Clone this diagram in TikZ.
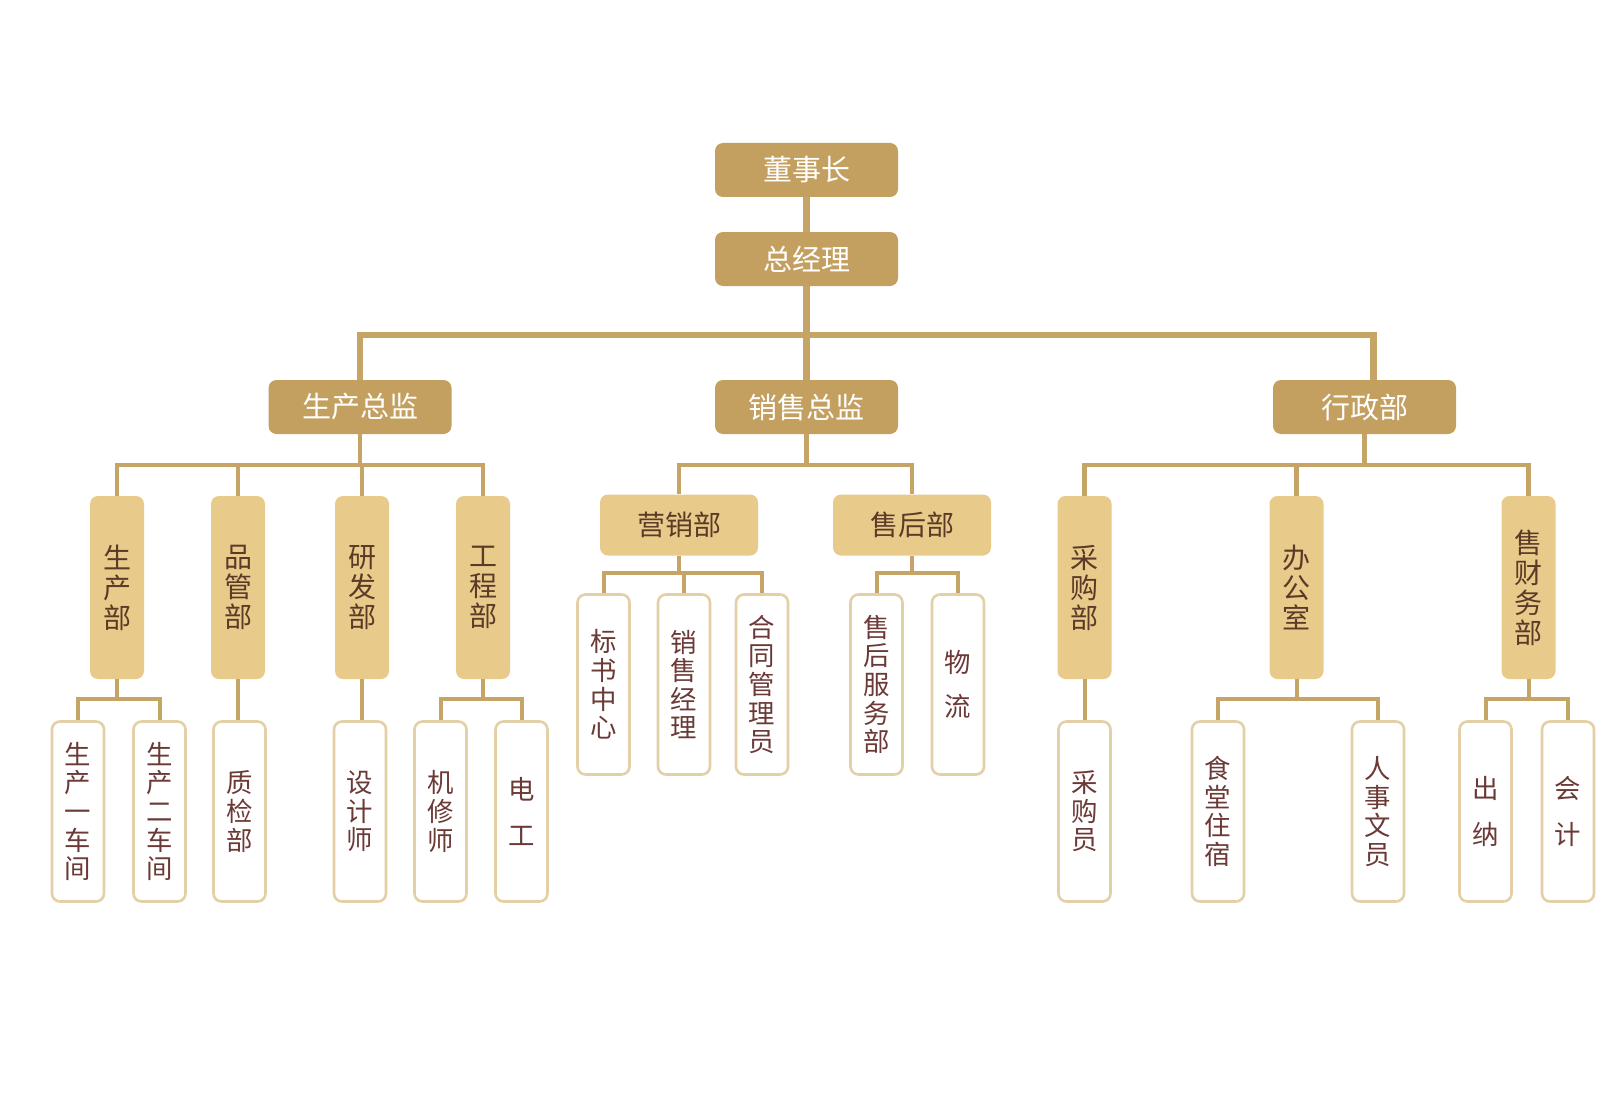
\documentclass[tikz,border=0pt]{standalone}
\usepackage{fontspec}
\newfontfamily\cjk{Noto Sans CJK SC}
\definecolor{topgold}{HTML}{C3A060}
\definecolor{lightgold}{HTML}{E8CA8A}
\definecolor{linegold}{HTML}{C6A465}
\definecolor{leafborder}{HTML}{E4D0A6}
\definecolor{darkbrown}{HTML}{5C3A28}
\definecolor{leaftext}{HTML}{6B3A36}
\begin{document}
\begin{tikzpicture}[x=0.5pt,y=-0.5pt,
  topbox/.style={fill=topgold, rounded corners=4pt, minimum width=91.5pt, minimum height=27pt, inner sep=0pt, text=white, font=\cjk\fontsize{14.5pt}{16pt}\selectfont},
  hbox/.style={fill=lightgold, rounded corners=4pt, minimum width=79pt, minimum height=30.5pt, inner sep=0pt, text=darkbrown, font=\cjk\fontsize{14pt}{16pt}\selectfont},
  vbox/.style={fill=lightgold, rounded corners=4pt, minimum width=27pt, minimum height=91.5pt, inner sep=0pt, align=center, text=darkbrown, font=\cjk\fontsize{14pt}{15pt}\selectfont},
  leaf/.style={draw=leafborder, line width=1.3pt, fill=white, rounded corners=4pt, minimum width=26pt, minimum height=90pt, inner sep=0pt, align=center, text=leaftext, font=\cjk\fontsize{13.2pt}{14.3pt}\selectfont},
  connA/.style={draw=linegold, line width=3.2pt},
  connB/.style={draw=linegold, line width=2.4pt},
  connC/.style={draw=linegold, line width=2pt}]
\useasboundingbox (0,0) rectangle (1604,1118);
\coordinate (y1) at (0,335);
\coordinate (y2) at (0,465);
\coordinate (y3) at (0,699);
\coordinate (y4) at (0,573);

% level 1-2
\node[topbox] (dsz) at (806.5,170) {董事长};
\node[topbox] (zjl) at (806.5,259) {总经理};
\node[topbox] (sczj) at (360,407) {生产总监};
\node[topbox] (xszj) at (806.5,407) {销售总监};
\node[topbox] (xzb) at (1364.5,407) {行政部};

% level 3
\node[vbox] (scb) at (117,587.5) {生\\产\\部};
\node[vbox] (pgb) at (238,587.5) {品\\管\\部};
\node[vbox] (yfb) at (362,587.5) {研\\发\\部};
\node[vbox] (gcb) at (483,587.5) {工\\程\\部};
\node[hbox] (yxb) at (679,525) {营销部};
\node[hbox] (shb) at (912,525) {售后部};
\node[vbox] (cgb) at (1084.5,587.5) {采\\购\\部};
\node[vbox] (bgs) at (1296.5,587.5) {办\\公\\室};
\node[vbox] (cwb) at (1528.5,587.5) {售\\财\\务\\部};

% level 4
\node[leaf] (sc1) at (78,811.5) {生\\产\\一\\车\\间};
\node[leaf] (sc2) at (159.5,811.5) {生\\产\\二\\车\\间};
\node[leaf] (zjb) at (239.5,811.5) {质\\检\\部};
\node[leaf] (sjs) at (360,811.5) {设\\计\\师};
\node[leaf] (jxs) at (440.5,811.5) {机\\修\\师};
\node[leaf] (dg) at (521.5,811.5) {电\\[9pt]工};
\node[leaf] (bszx) at (603.5,684.5) {标\\书\\中\\心};
\node[leaf] (xsjl) at (684,684.5) {销\\售\\经\\理};
\node[leaf] (htgl) at (762,684.5) {合\\同\\管\\理\\员};
\node[leaf] (shfw) at (876.5,684.5) {售\\后\\服\\务\\部};
\node[leaf] (wl) at (958,684.5) {物\\[8pt]流};
\node[leaf] (cgy) at (1084.5,811.5) {采\\购\\员};
\node[leaf] (stzs) at (1218,811.5) {食\\堂\\住\\宿};
\node[leaf] (rswy) at (1378,811.5) {人\\事\\文\\员};
\node[leaf] (cn) at (1485.5,811.5) {出\\[9pt]纳};
\node[leaf] (kj) at (1568,811.5) {会\\[9pt]计};

% connectors
\draw[connA] (dsz.south) -- (zjl.north);
\draw[connA] (zjl.south) -- (zjl.south |- y1) -| (sczj.north);
\draw[connA] (zjl.south |- y1) -- (xszj.north);
\draw[connA] (zjl.south |- y1) -| ([xshift=4.5pt]xzb.north);

\foreach \c in {scb,pgb,yfb,gcb}
  \draw[connB] (sczj.south) -- (sczj.south |- y2) -| (\c.north);
\foreach \c in {yxb,shb}
  \draw[connB] (xszj.south) -- (xszj.south |- y2) -| (\c.north);
\foreach \c in {cgb,bgs,cwb}
  \draw[connB] (xzb.south) -- (xzb.south |- y2) -| (\c.north);

\foreach \c in {sc1,sc2}
  \draw[connC] (scb.south) -- (scb.south |- y3) -| (\c.north);
\draw[connC] (pgb.south) -- (pgb.south |- zjb.north);
\draw[connC] (yfb.south) -- (yfb.south |- sjs.north);
\foreach \c in {jxs,dg}
  \draw[connC] (gcb.south) -- (gcb.south |- y3) -| (\c.north);
\foreach \c in {bszx,xsjl,htgl}
  \draw[connC] (yxb.south) -- (yxb.south |- y4) -| (\c.north);
\foreach \c in {shfw,wl}
  \draw[connC] (shb.south) -- (shb.south |- y4) -| (\c.north);
\draw[connC] (cgb.south) -- (cgb.south |- cgy.north);
\foreach \c in {stzs,rswy}
  \draw[connC] (bgs.south) -- (bgs.south |- y3) -| (\c.north);
\foreach \c in {cn,kj}
  \draw[connC] (cwb.south) -- (cwb.south |- y3) -| (\c.north);
\end{tikzpicture}
\end{document}
